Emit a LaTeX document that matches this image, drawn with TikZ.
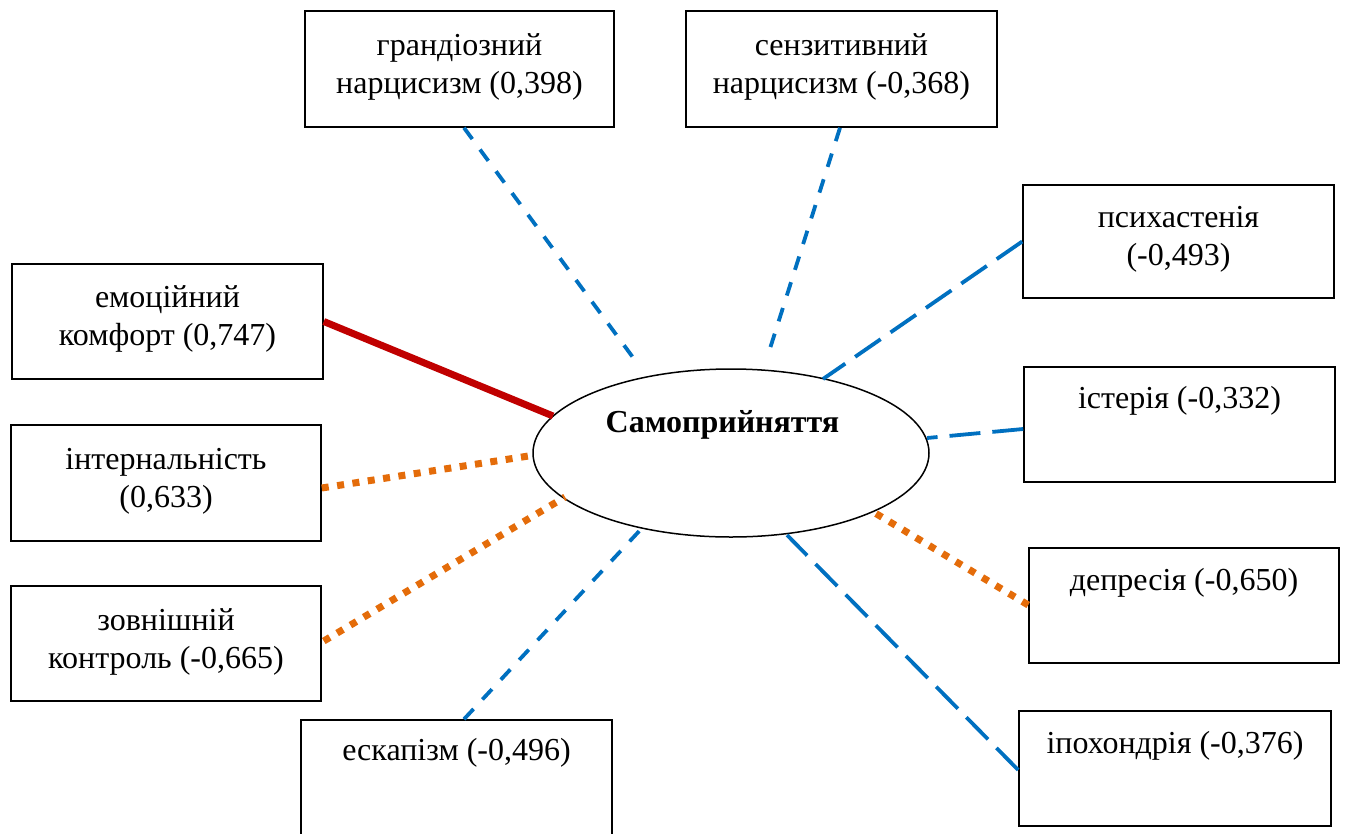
\documentclass[tikz,border=0pt]{standalone}
\usepackage{fontspec}
\setmainfont{Liberation Serif}
\usetikzlibrary{shapes.geometric,calc}
\definecolor{lblue}{HTML}{0070C0}
\definecolor{lred}{HTML}{C00000}
\definecolor{lorange}{HTML}{E46C0A}
\tikzset{
  box/.style={draw, line width=1.6pt, rectangle, inner sep=0pt},
  lbl/.style={anchor=north, align=center, inner sep=0pt, font=\fontsize{32}{38}\selectfont},
  shortdash/.style={draw=lblue, line width=3.8pt, dash pattern=on 14pt off 13pt},
  longdash/.style={draw=lblue, line width=3.8pt, dash pattern=on 31pt off 12pt},
  strong/.style={draw=lred, line width=7pt},
  dots/.style={draw=lorange, line width=7pt, dash pattern=on 7pt off 8.5pt},
}
\begin{document}
\begin{tikzpicture}[x=1pt,y=-1pt]
\useasboundingbox (0,0) rectangle (1346,833);
% boxes
\node[box, minimum width=309pt, minimum height=116pt] (gr) at (459.5,69) {};
\node[box, minimum width=311pt, minimum height=116pt] (sens) at (841.5,69) {};
\node[box, minimum width=311pt, minimum height=113pt] (psych) at (1178.5,241.5) {};
\node[box, minimum width=311pt, minimum height=115pt] (emo) at (167.5,321.5) {};
\node[box, minimum width=311pt, minimum height=115pt] (ister) at (1179.5,424.5) {};
\node[box, minimum width=310pt, minimum height=116pt] (intern) at (166,483) {};
\node[box, minimum width=310pt, minimum height=115pt] (depr) at (1184,605.5) {};
\node[box, minimum width=310pt, minimum height=115pt] (zovn) at (166,643.5) {};
\node[box, minimum width=311pt, minimum height=115pt] (eskap) at (456.5,777.5) {};
\node[box, minimum width=312pt, minimum height=115pt] (ipoh) at (1175,768.5) {};
% labels
\node[lbl] (grt) at ($(gr.north)+(0,18)$) {\strut грандіозний\\нарцисизм (0,398)};
\node[lbl] (senst) at ($(sens.north)+(0,18)$) {\strut сензитивний\\нарцисизм (-0,368)};
\node[lbl] (psycht) at ($(psych.north)+(0,16)$) {\strut психастенія\\(-0,493)};
\node[lbl] (emot) at ($(emo.north)+(0,17)$) {\strut емоційний\\комфорт (0,747)};
\node[lbl] (istert) at ($(ister.north)+(0,15)$) {\strut істерія (-0,332)};
\node[lbl] (interntt) at ($(intern.north)+(0,18)$) {\strut інтернальність\\(0,633)};
\node[lbl] (deprt) at ($(depr.north)+(0,16)$) {\strut депресія (-0,650)};
\node[lbl] (zovnt) at ($(zovn.north)+(0,18)$) {\strut зовнішній\\контроль (-0,665)};
\node[lbl] (eskapt) at ($(eskap.north)+(0,14)$) {\strut ескапізм (-0,496)};
\node[lbl] (ipoht) at ($(ipoh.north)+(0,16)$) {\strut іпохондрія (-0,376)};
% central ellipse
\node[ellipse, draw, line width=1.5pt, minimum width=396pt, minimum height=168pt, inner sep=0pt] (self) at (731,453) {};
\node[font=\bfseries\fontsize{32}{38}\selectfont, anchor=base, inner sep=0pt] (selft) at ($(self.center)+(-8.5,-21)$) {Самоприйняття};
% connectors
\draw[shortdash] ($(gr.south)+(4.5,0)$) -- ($(self.center)+(-91,-86)$);
\draw[shortdash] ($(sens.south)+(-1.5,0)$) -- ($(self.center)+(36,-95)$);
\draw[longdash] (psych.west) -- ($(self.center)+(92,-74)$);
\draw[strong] (emo.east) -- ($(self.center)+(-178,-37)$);
\draw[longdash] ($(ister.west)+(0,4.5)$) -- ($(self.center)+(196,-15)$);
\draw[dots] ($(intern.east)+(0,5)$) -- ($(self.center)+(-196,2)$);
\draw[dots] ($(zovn.east)+(2,-2.5)$) -- ($(self.center)+(-166,44)$);
\draw[dots] ($(depr.west)+(0,-0.5)$) -- ($(self.center)+(144,60)$);
\draw[shortdash] ($(eskap.north)+(7.5,0)$) -- ($(self.center)+(-88,74)$);
\draw[longdash] ($(ipoh.west)+(0,1.5)$) -- ($(self.center)+(56,82)$);
\end{tikzpicture}
\end{document}
